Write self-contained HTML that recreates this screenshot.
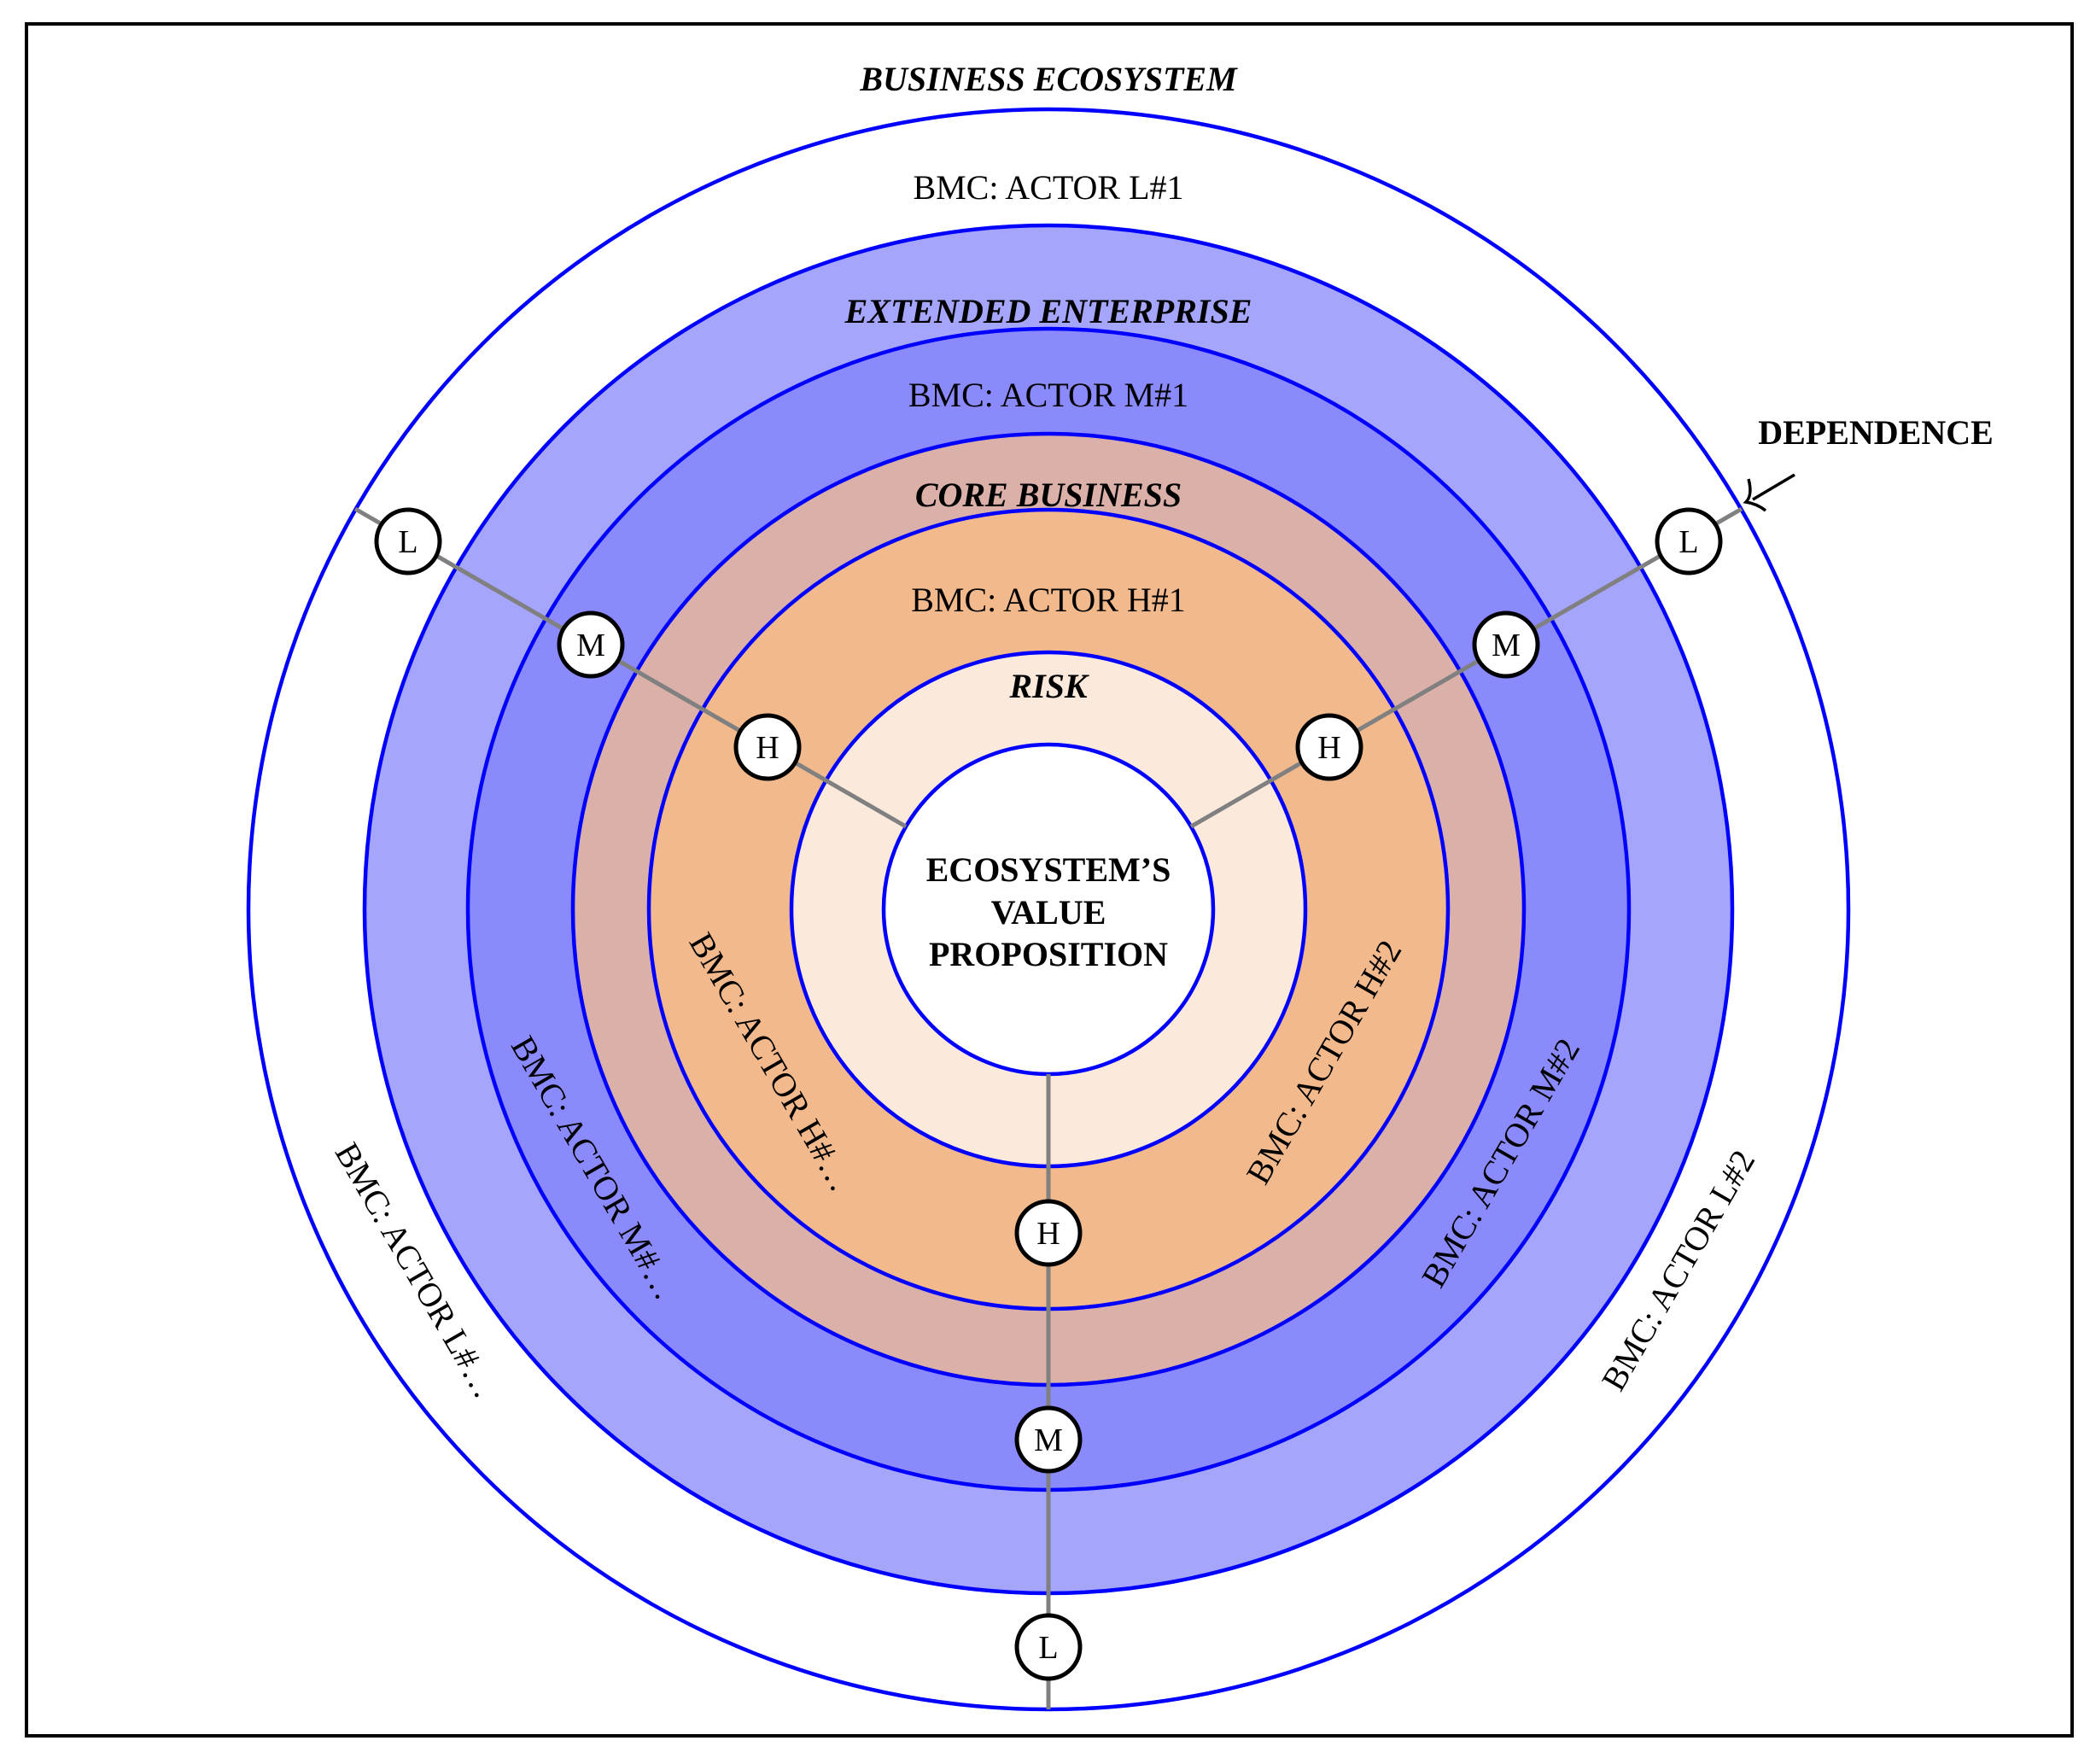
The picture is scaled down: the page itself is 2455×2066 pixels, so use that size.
<!DOCTYPE html>
<html><head><meta charset="utf-8"><style>html,body{margin:0;padding:0;background:#fff}svg{display:block}</style></head>
<body>
<svg width="2455" height="2066" viewBox="0 0 2455 2066" xmlns="http://www.w3.org/2000/svg" font-family="Liberation Serif, serif">
<rect x="31" y="28" width="2396" height="2005" fill="#fff" stroke="#000" stroke-width="4"/>
<g stroke="#0000ff" stroke-width="4.5">
<circle cx="1228" cy="1065" r="937" fill="#fff"/>
<circle cx="1228" cy="1065" r="801" fill="#a5a5fb"/>
<circle cx="1228" cy="1065" r="680" fill="#8a8afc"/>
<circle cx="1228" cy="1065" r="557" fill="#dbb0a8"/>
<circle cx="1228" cy="1065" r="468" fill="#f2b98c"/>
<circle cx="1228" cy="1065" r="301" fill="#fbe9dc"/>
<circle cx="1228" cy="1065" r="193" fill="#fff"/>
</g>
<g stroke="#808080" stroke-width="5">
<line x1="1061" y1="968" x2="416" y2="596"/>
<line x1="1395" y1="968" x2="2040" y2="596"/>
<line x1="1228" y1="1258" x2="1228" y2="2002"/>
</g>
<g fill="#fff" stroke="#000" stroke-width="5">
<circle cx="899" cy="875" r="37"/><circle cx="692" cy="755" r="37"/><circle cx="478" cy="634" r="37"/>
<circle cx="1557" cy="875" r="37"/><circle cx="1764" cy="755" r="37"/><circle cx="1978" cy="634" r="37"/>
<circle cx="1228" cy="1444" r="37"/><circle cx="1228" cy="1686" r="37"/><circle cx="1228" cy="1929" r="37"/>
</g>
<g font-size="38" text-anchor="middle">
<text x="899" y="888">H</text><text x="692" y="768">M</text><text x="478" y="647">L</text>
<text x="1557" y="888">H</text><text x="1764" y="768">M</text><text x="1978" y="647">L</text>
<text x="1228" y="1457">H</text><text x="1228" y="1699">M</text><text x="1228" y="1942">L</text>
</g>
<g font-size="40" text-anchor="middle">
<text x="1228" y="106" font-weight="bold" font-style="italic">BUSINESS ECOSYSTEM</text>
<text x="1228" y="233">BMC: ACTOR L#1</text>
<text x="1228" y="378" font-weight="bold" font-style="italic">EXTENDED ENTERPRISE</text>
<text x="1228" y="476">BMC: ACTOR M#1</text>
<text x="1228" y="593" font-weight="bold" font-style="italic">CORE BUSINESS</text>
<text x="1228" y="716">BMC: ACTOR H#1</text>
<text x="1228" y="817" font-weight="bold" font-style="italic">RISK</text>
<g font-weight="bold"><text x="1228" y="1032">ECOSYSTEM’S</text><text x="1228" y="1082">VALUE</text><text x="1228" y="1131">PROPOSITION</text></g>
<text x="2197" y="520" font-weight="bold">DEPENDENCE</text>
<text transform="translate(487,1488) rotate(60)" dy="13">BMC: ACTOR L#…</text>
<text transform="translate(696,1368) rotate(60)" dy="13">BMC: ACTOR M#…</text>
<text transform="translate(903,1244) rotate(60)" dy="13">BMC: ACTOR H#…</text>
<text transform="translate(1551,1244) rotate(-60)" dy="13">BMC: ACTOR H#2</text>
<text transform="translate(1758,1362) rotate(-60)" dy="13">BMC: ACTOR M#2</text>
<text transform="translate(1966,1488) rotate(-60)" dy="13">BMC: ACTOR L#2</text>
</g>
<g stroke="#000" stroke-width="3.5" fill="none">
<line x1="2102" y1="556" x2="2053" y2="585"/>
<path d="M2048 561 Q2053 580 2045 588 Q2058 590 2068 598"/>
</g>
</svg>
</body></html>
